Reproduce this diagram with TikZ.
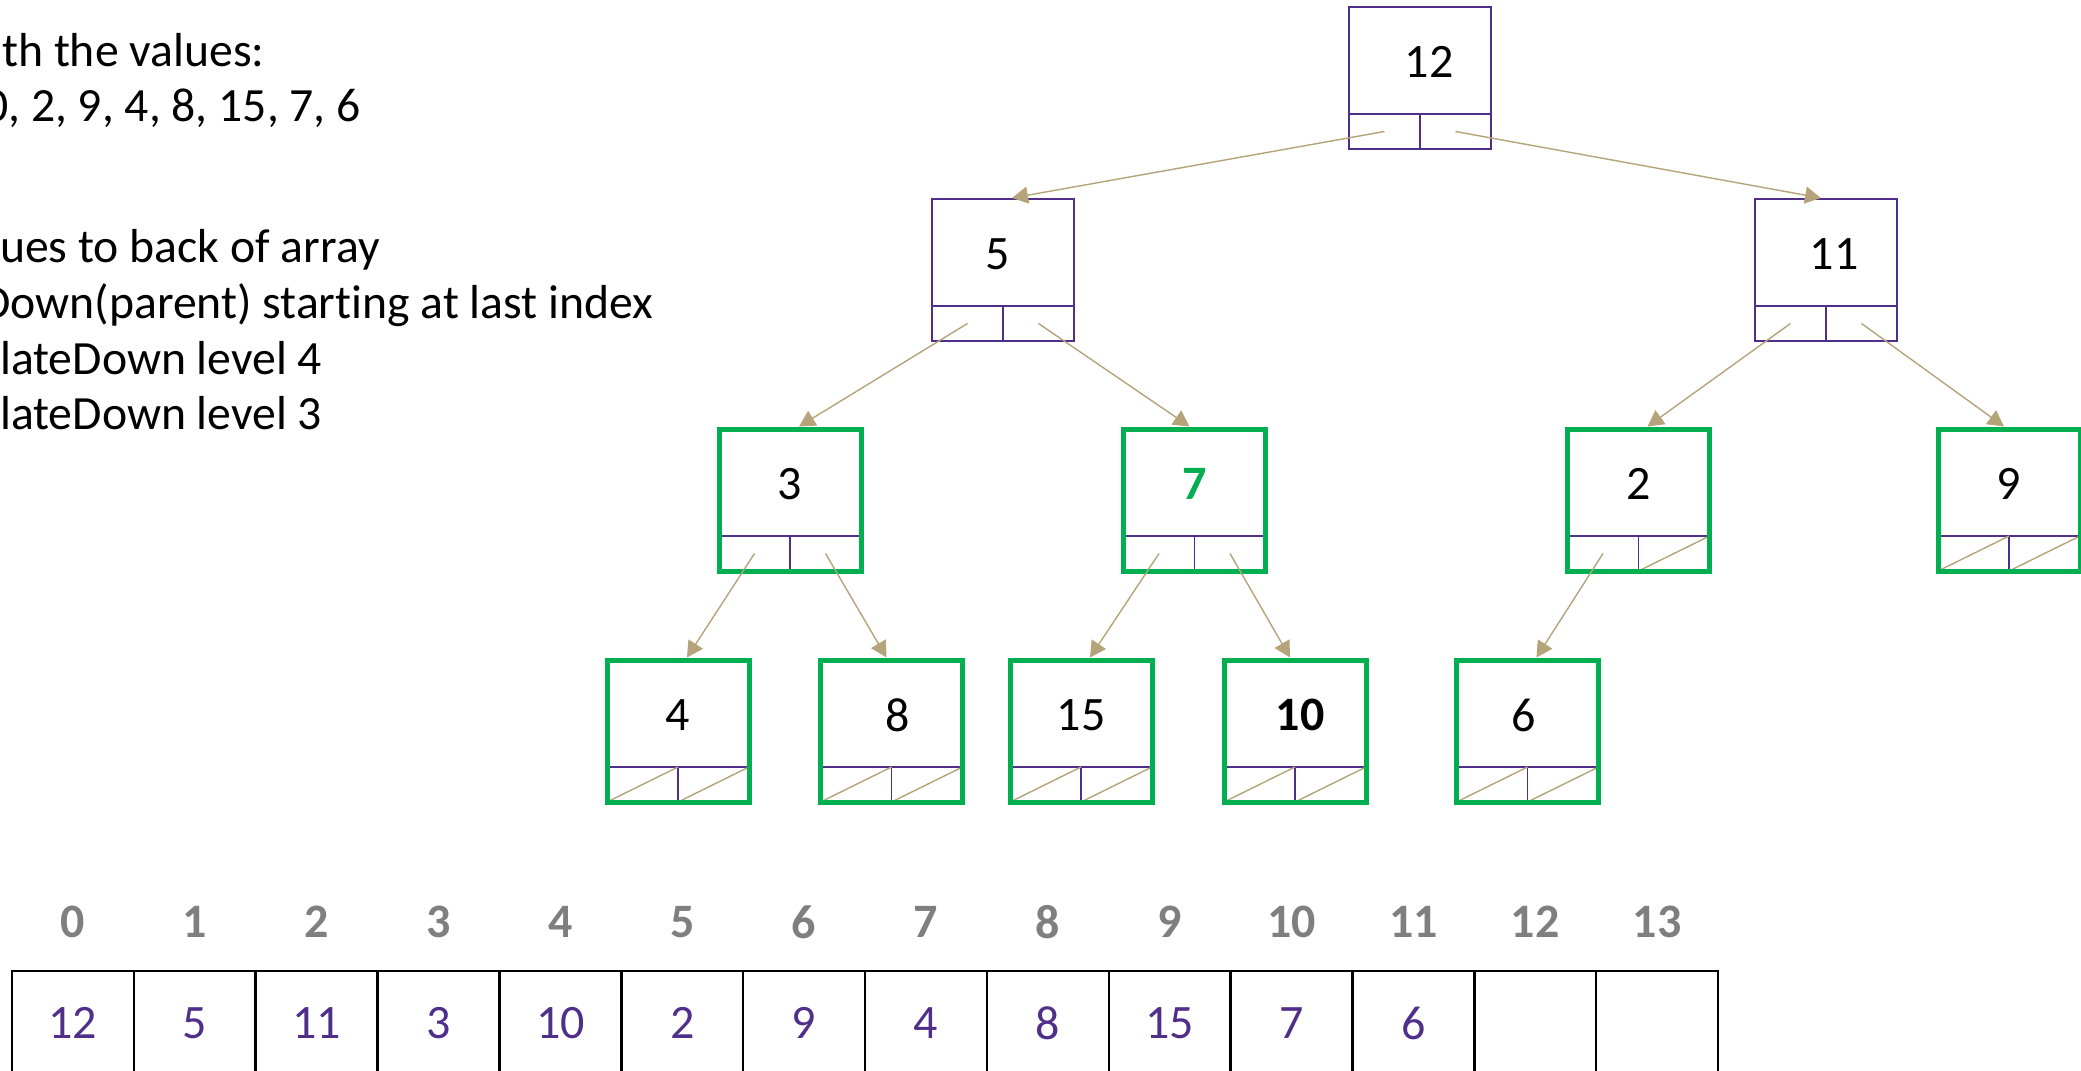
\documentclass[tikz,border=0pt]{standalone}
\usepackage{fontspec}
\setmainfont{Carlito}[Ligatures=NoCommon]
\usetikzlibrary{calc,arrows.meta}

\definecolor{heappurple}{RGB}{79,47,138}
\definecolor{heapgreen}{RGB}{0,176,80}
\definecolor{linktan}{RGB}{181,164,122}
\definecolor{idxgray}{RGB}{127,127,127}

\tikzset{
  box/.style={rectangle, minimum width=142pt, minimum height=142pt,
    inner sep=0pt, outer sep=0pt, fill=white},
  plainrim/.style={draw=heappurple, line width=2pt},
  greenrim/.style={draw=heapgreen, line width=5pt},
  cellline/.style={draw=heappurple, line width=1.5pt},
  nullslash/.style={draw=linktan, line width=1.4pt},
  link/.style={draw=linktan, line width=1.4pt,
    -{Triangle[length=16pt,width=17pt]}},
  val/.style={font=\fontsize{48}{56}\selectfont, inner sep=0pt},
  caption/.style={font=\fontsize{47.7}{56}\selectfont, anchor=base west, inner sep=0pt},
  slot/.style={rectangle, draw=black, line width=2.5pt, minimum width=121.86pt,
    minimum height=150pt, anchor=north, inner sep=0pt, outer sep=0pt},
  idx/.style={font=\fontsize{48}{56}\selectfont\bfseries, text=idxgray, inner sep=0pt},
  slotval/.style={font=\fontsize{48}{56}\selectfont, text=heappurple, inner sep=0pt},
}

% tree node: name, x, y, label, rim style, label shift, null slashes (0 none, 1 right, 2 both)
\newcommand\heapnode[7]{%
  \node[box] (#1) at (#2,#3) {};
  \draw[cellline] ($(#1.south west)+(0,-35)$) -- ($(#1.south east)+(0,-35)$);
  \draw[cellline] ($(#1.south)+(0,-35)$) -- (#1.south);
  \ifcase#7\relax
  \or
    \draw[nullslash] (#1.south) -- ($(#1.south east)+(0,-35)$);
  \or
    \draw[nullslash] (#1.south west) -- ($(#1.south)+(0,-35)$);
    \draw[nullslash] (#1.south) -- ($(#1.south east)+(0,-35)$);
  \fi
  \draw[#5] (#1.south west) rectangle (#1.north east);
  \node[val] (#1-v) at ($(#1.center)+(#6,-16)$) {#4};
}

\begin{document}
\begin{tikzpicture}[x=1pt,y=-1pt]
\useasboundingbox (0,0) rectangle (2081,1071);
\clip (0,0) rectangle (2081,1071);

% notes on the left
\node[caption] (t1) at (2,66) {th the values:};
\node[caption] (t2) at (-16,121) {0, 2, 9, 4, 8, 15, 7, 6};
\node[caption] (t3) at (0,262) {ues to back of array};
\node[caption] (t4) at (-19,318) {Down(parent) starting at last index};
\node[caption] (t5) at (0,374) {lateDown level 4};
\node[caption] (t6) at (0,429) {lateDown level 3};

% tree
\heapnode{r}{1420}{78}{12}{plainrim}{9}{0}
\heapnode{a}{1003}{270}{5}{plainrim}{-5}{0}
\heapnode{b}{1826}{270}{11}{plainrim}{8}{0}
\heapnode{c}{790}{500}{3}{greenrim}{0}{0}
\heapnode{d}{1194.5}{500}{\bfseries\color{heapgreen}7}{greenrim}{0}{0}
\heapnode{e}{1638.5}{500}{2}{greenrim}{0}{1}
\heapnode{f}{2009}{500}{9}{greenrim}{0}{2}
\heapnode{g}{678}{731}{4}{greenrim}{0}{2}
\heapnode{h}{891.5}{731}{8}{greenrim}{6}{2}
\heapnode{i}{1081}{731}{15}{greenrim}{0}{2}
\heapnode{j}{1295}{731}{\bfseries 10}{greenrim}{5}{2}
\heapnode{k}{1527.5}{731}{6}{greenrim}{-4}{2}

% child links
\draw[link] ($(r.south west)!0.25!(r.south east)+(0,-17.5)$) -- ($(a.north)+(9,-1)$);
\draw[link] ($(r.south west)!0.75!(r.south east)+(0,-17.5)$) -- ($(b.north)+(-5,-1)$);
\draw[link] ($(a.south west)!0.25!(a.south east)+(0,-17.5)$) -- ($(c.north)+(9,-2.5)$);
\draw[link] ($(a.south west)!0.75!(a.south east)+(0,-17.5)$) -- ($(d.north)+(-5,-2.5)$);
\draw[link] ($(b.south west)!0.25!(b.south east)+(0,-17.5)$) -- ($(e.north)+(9,-2.5)$);
\draw[link] ($(b.south west)!0.75!(b.south east)+(0,-17.5)$) -- ($(f.north)+(-5,-2.5)$);
\draw[link] ($(c.south west)!0.25!(c.south east)+(0,-17.5)$) -- ($(g.north)+(9,-2.5)$);
\draw[link] ($(c.south west)!0.75!(c.south east)+(0,-17.5)$) -- ($(h.north)+(-5,-2.5)$);
\draw[link] ($(d.south west)!0.25!(d.south east)+(0,-17.5)$) -- ($(i.north)+(9,-2.5)$);
\draw[link] ($(d.south west)!0.75!(d.south east)+(0,-17.5)$) -- ($(j.north)+(-5,-2.5)$);
\draw[link] ($(e.south west)!0.25!(e.south east)+(0,-17.5)$) -- ($(k.north)+(9,-2.5)$);

% array with indices
\foreach \n/\v in {0/12,1/5,2/11,3/3,4/10,5/2,6/9,7/4,8/8,9/15,10/7,11/6,12/{},13/{}}{
  \node[slot] (s\n) at ({12+121.86*(\n+0.5)},971) {};
  \node[idx] (x\n) at ($(s\n.north)+(0,-49)$) {\n};
  \node[slotval] (v\n) at ($(s\n.north)+(0,52)$) {\v};
}
\end{tikzpicture}
\end{document}
